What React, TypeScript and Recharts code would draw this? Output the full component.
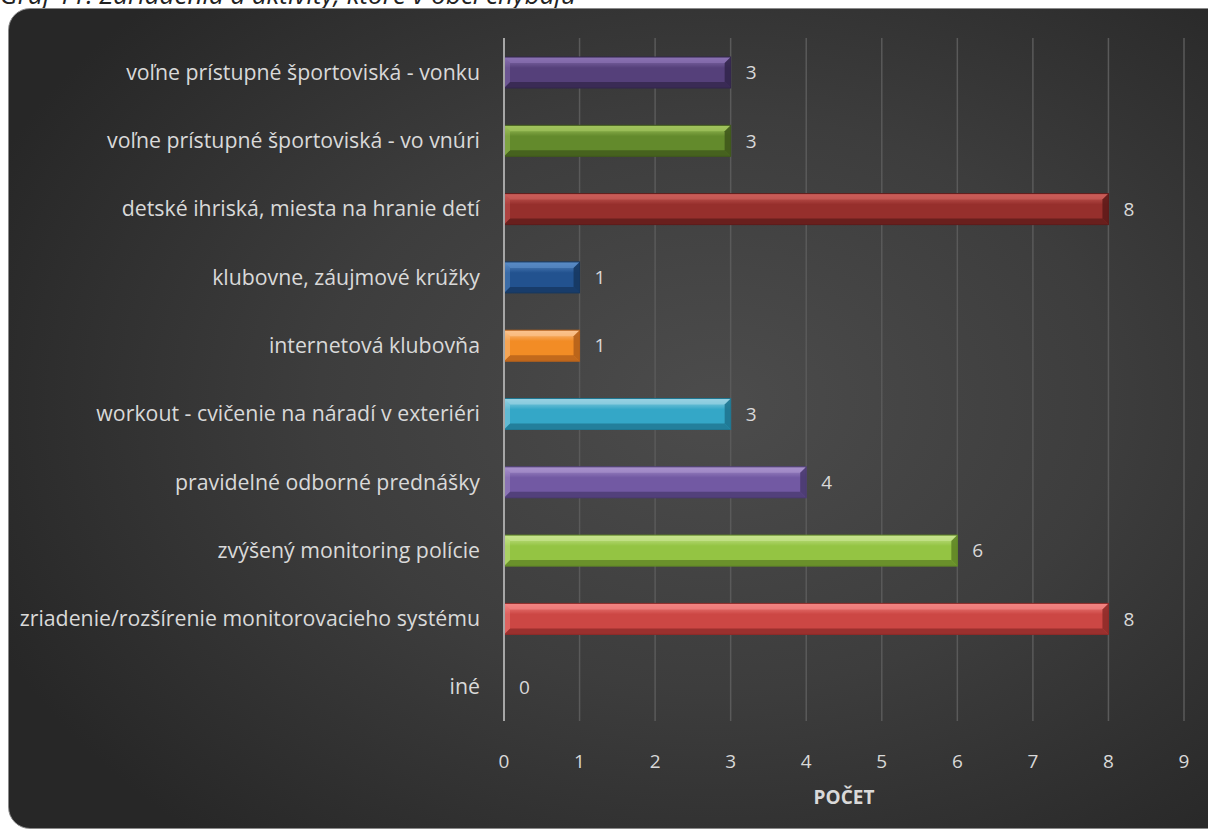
import { BarChart, Bar, XAxis, YAxis, CartesianGrid, Cell, LabelList } from 'recharts'

const categories = [
  'voľne prístupné športoviská - vonku',
  'voľne prístupné športoviská - vo vnúri',
  'detské ihriská, miesta na hranie detí',
  'klubovne, záujmové krúžky',
  'internetová klubovňa',
  'workout - cvičenie na náradí v exteriéri',
  'pravidelné odborné prednášky',
  'zvýšený monitoring polície',
  'zriadenie/rozšírenie monitorovacieho systému',
  'iné',
]
const counts = [3, 3, 8, 1, 1, 3, 4, 6, 8, 0]
const xTicks = [0, 1, 2, 3, 4, 5, 6, 7, 8, 9]

// base, light, dark
const palette = [
  ['#55407a', '#8a72b2', '#33264c'],
  ['#638a2c', '#a2c45e', '#3f581b'],
  ['#962f2c', '#cc5e5a', '#5e1b1a'],
  ['#22528f', '#5a8bc6', '#163760'],
  ['#f28c25', '#fbc38f', '#b5601a'],
  ['#34a7c7', '#98d2e2', '#1f7690'],
  ['#7259a3', '#a892cc', '#4a3a70'],
  ['#94c443', '#c8e48f', '#5f8526'],
  ['#cc4744', '#f38583', '#8e2b29'],
  ['#888888', '#aaaaaa', '#555555'],
]

const data = categories.map((name, i) => ({ name, count: counts[i] }))

const FONT = '"Open Sans", Lato, sans-serif'

function BevelBar(props: any) {
  const { x, y, width, height, index } = props
  if (!width || width <= 0) return null
  const [base, light, dark] = palette[index % palette.length]
  const b = Math.min(6, width / 2)
  const id = `g${index}`
  return (
    <g>
      <defs>
        <linearGradient id={id} x1="0" y1="0" x2="0" y2="1">
          <stop offset="0%" stopColor={light} />
          <stop offset="35%" stopColor={base} />
          <stop offset="100%" stopColor={base} />
        </linearGradient>
      </defs>
      <rect x={x} y={y} width={width} height={height} fill={`url(#${id})`} />
      <polygon points={`${x},${y} ${x + width},${y} ${x + width - b},${y + b} ${x + b},${y + b}`} fill={light} opacity={0.7} />
      <polygon points={`${x},${y + height} ${x + width},${y + height} ${x + width - b},${y + height - b} ${x + b},${y + height - b}`} fill={dark} opacity={0.8} />
      <polygon points={`${x},${y} ${x + b},${y + b} ${x + b},${y + height - b} ${x},${y + height}`} fill={light} opacity={0.45} />
      <polygon points={`${x + width},${y} ${x + width - b},${y + b} ${x + width - b},${y + height - b} ${x + width},${y + height}`} fill={dark} opacity={0.9} />
      <rect x={x} y={y} width={width} height={height} fill="none" stroke={dark} strokeWidth={1} />
    </g>
  )
}

export default function App() {
  return (
    <div style={{ position: 'absolute', left: 0, top: 0, width: 1208, height: 829, overflow: 'hidden', background: '#fff' }}>
      <div
        style={{
          position: 'absolute',
          left: 0,
          top: -24,
          fontFamily: FONT,
          fontStyle: 'italic',
          fontSize: 26,
          color: '#222',
          whiteSpace: 'nowrap',
        }}
      >
        Graf 11: Zariadenia a aktivity, ktoré v obci chýbajú
      </div>
      <div
        style={{
          position: 'absolute',
          left: 8,
          top: 8,
          width: 1222,
          height: 821,
          borderRadius: 22,
          border: '1px solid #8a8a8a',
          boxSizing: 'border-box',
          background: 'radial-gradient(ellipse 65% 70% at 58% 48%, #4c4c4c 0%, #3d3d3d 50%, #272727 100%)',
          overflow: 'hidden',
        }}
      >
        <BarChart
          width={1200}
          height={821}
          data={data}
          layout="vertical"
          margin={{ top: 29, right: 25, bottom: 0, left: 0 }}
          barCategoryGap="27%"
        >
          <CartesianGrid horizontal={false} vertical={true} stroke="#5a5a5a" strokeWidth={1.5} />
          <XAxis
            type="number"
            domain={[0, 9]}
            ticks={xTicks}
            axisLine={false}
            tickLine={false}
            tick={{ fill: '#d9d9d9', fontSize: 19, fontFamily: FONT }}
            tickMargin={28}
            height={109}
            label={{ value: 'POČET', position: 'insideTop', offset: 70, fill: '#d9d9d9', fontSize: 19, fontWeight: 700, fontFamily: FONT }}
          />
          <YAxis
            type="category"
            dataKey="name"
            width={495}
            axisLine={{ stroke: '#a6a6a6', strokeWidth: 2 }}
            tickLine={false}
            tickMargin={18}
            tick={{ fill: '#d9d9d9', fontSize: 21.3, fontFamily: FONT }}
            interval={0}
          />
          <Bar dataKey="count" isAnimationActive={false} shape={<BevelBar />} barSize={31}>
            {data.map((d, i) => (
              <Cell key={d.name} fill={palette[i][0]} />
            ))}
            <LabelList dataKey="count" position="right" offset={15} fill="#d9d9d9" fontSize={19} fontFamily={FONT} />
          </Bar>
        </BarChart>
      </div>
    </div>
  )
}
